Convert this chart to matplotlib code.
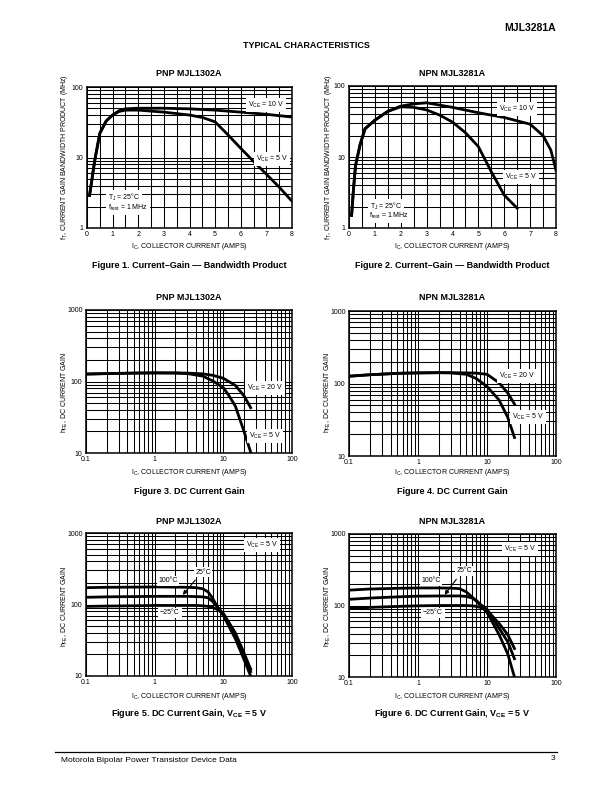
import numpy as np
import matplotlib.pyplot as plt
from matplotlib.ticker import MultipleLocator, LogLocator, FuncFormatter, NullFormatter

plt.rcParams['font.family'] = ['Liberation Sans', 'DejaVu Sans']
plt.rcParams['mathtext.default'] = 'regular'

W, H = 612, 792

# Figure 1 - PNP MJL1302A, fT vs Ic (linear x)
pnp_ft_ic_10 = [0.1, 0.3, 0.5, 0.75, 1.0, 1.25, 1.5, 2, 3, 4, 5, 6, 7, 8]
pnp_ft_10 = [2.9, 9, 22, 33, 40, 46, 49, 50, 50, 49, 47, 44, 41, 37.5]
pnp_ft_ic_5 = [0.1, 0.3, 0.5, 0.75, 1.0, 1.25, 1.5, 2, 3, 4, 4.5, 5, 5.5, 6, 6.5, 7, 7.5, 8]
pnp_ft_5 = [2.9, 9, 22, 33, 40, 45, 47, 47, 44, 40, 37, 32, 21, 13.5, 8.8, 5.8, 3.8, 2.4]

# Figure 2 - NPN MJL3281A, fT vs Ic
npn_ft_ic_10 = [0.1, 0.17, 0.25, 0.43, 0.62, 1.0, 1.5, 2, 2.5, 3, 4, 5, 6, 7, 7.5, 7.8, 8]
npn_ft_10 = [1.5, 3.4, 7.5, 15, 25, 33, 44, 52, 56, 58, 50, 42, 36, 29, 20, 12.5, 6.5]
npn_ft_ic_5 = [0.1, 0.17, 0.25, 0.43, 0.62, 1.0, 1.5, 2, 2.5, 3, 3.5, 4, 4.5, 5, 5.5, 6, 6.5]
npn_ft_5 = [1.5, 3.4, 7.5, 15, 25, 33, 44, 51, 50, 46, 39, 31, 22, 14, 6.2, 2.9, 1.9]

# Figure 3 - PNP hFE vs Ic
pnp_hfe_ic_20 = [0.1, 0.2, 0.5, 1, 2, 3, 5, 7, 10, 15, 20, 25]
pnp_hfe_20 = [127, 129, 131, 132, 132, 131, 128, 122, 111, 88, 63, 43]
pnp_hfe_ic_5 = [0.1, 0.2, 0.5, 1, 2, 3, 5, 7, 10, 12, 15, 20, 25]
pnp_hfe_5 = [127, 129, 131, 132, 131, 129, 119, 102, 82, 64, 45, 20, 10.3]

# Figure 4 - NPN hFE vs Ic
npn_hfe_ic = [0.1, 0.2, 0.5, 1, 2, 3, 5, 7, 10, 15, 20, 25]
npn_hfe_20 = [126, 132, 138, 140, 141, 141, 140, 139, 134, 102, 74, 52]
npn_hfe_5 = [126, 132, 138, 140, 141, 140, 134, 117, 91, 59, 34, 18]

# Figure 5 - PNP hFE vs Ic at three temperatures
pnp_t_ic = [0.1, 0.2, 0.5, 1, 2, 3, 4, 5, 6, 7, 8, 10, 15, 20, 25]
pnp_t_100 = [172, 174, 175, 176, 175, 174, 172, 166, 150, 122, 96, 70, 33, 17, 10]
pnp_t_25 = [126, 128, 129, 130, 130, 130, 129, 128, 124, 110, 95, 74, 37, 19, 11.5]
pnp_t_m25 = [94, 95, 96, 97, 97, 97, 97, 96, 94, 91, 86, 75, 40, 21, 12.5]

# Figure 6 - NPN hFE vs Ic at three temperatures
npn_t_ic = [0.1, 0.2, 0.5, 1, 2, 3, 4, 5, 6, 7, 8, 10, 15, 20, 25]
npn_t_100 = [164, 170, 174, 176, 176, 175, 172, 155, 133, 115, 100, 80, 39, 21, 10]
npn_t_25 = [122, 127, 132, 135, 136, 136, 136, 134, 128, 118, 104, 88, 48, 31, 18]
npn_t_m25 = [91, 94, 97, 99, 100, 100, 100, 100, 99, 97, 94, 86, 56, 39, 25]

fig = plt.figure(figsize=(W / 100, H / 100), dpi=100)


def fx(x, y):
    return x / W, 1 - y / H


def make_axes(l, t, r, b):
    return fig.add_axes([l / W, 1 - b / H, (r - l) / W, (b - t) / H])


def common(ax):
    ax.grid(which='both', color='black', lw=0.75)
    ax.tick_params(which='both', length=0, labelsize=5, pad=2.5)
    for s in ax.spines.values():
        s.set_linewidth(1.1)


def style_lin(ax):
    ax.set_yscale('log')
    ax.set_xlim(0, 8)
    ax.set_ylim(1, 100)
    ax.xaxis.set_major_locator(MultipleLocator(1))
    ax.xaxis.set_minor_locator(MultipleLocator(0.5))
    ax.yaxis.set_major_locator(LogLocator(base=10, numticks=10))
    ax.yaxis.set_minor_locator(LogLocator(base=10, subs=np.arange(2, 10), numticks=10))
    ax.yaxis.set_major_formatter(FuncFormatter(lambda v, p: f"{v:g}"))
    ax.yaxis.set_minor_formatter(NullFormatter())
    common(ax)


def style_log(ax):
    ax.set_xscale('log')
    ax.set_yscale('log')
    ax.set_xlim(0.1, 100)
    ax.set_ylim(10, 1000)
    for axis in (ax.xaxis, ax.yaxis):
        axis.set_major_locator(LogLocator(base=10, numticks=10))
        axis.set_minor_locator(LogLocator(base=10, subs=np.arange(2, 10), numticks=10))
        axis.set_major_formatter(FuncFormatter(lambda v, p: f"{v:g}"))
        axis.set_minor_formatter(NullFormatter())
    common(ax)


def label(x, y, s, ha='center', size=5):
    fig.text(*fx(x, y), s, ha=ha, va='center', fontsize=size,
             bbox=dict(facecolor='white', edgecolor='none', pad=1.2))


def texts(cx, ytitle, yxl, ycap, title, cap, ylab_x, ylab_y, ylab):
    fig.text(*fx(cx, ytitle), title, ha='center', va='center', fontsize=6.5, fontweight='bold')
    fig.text(*fx(cx, yxl), r"I$_{C}$, COLLECTOR CURRENT (AMPS)", ha='center', va='center', fontsize=5)
    fig.text(*fx(cx, ycap), cap, ha='center', va='center', fontsize=6.5, fontweight='bold')
    fig.text(*fx(ylab_x, ylab_y), ylab, ha='center', va='center', fontsize=5, rotation=90)


lw = 2.0
ft_lab = r"f$_{T}$, CURRENT GAIN BANDWIDTH PRODUCT (MHz)"
hfe_lab = r"h$_{FE}$, DC CURRENT GAIN"
vce = lambda v: r"V$_{CE}$ = " + v + " V"

# ---- Figure 1
ax = make_axes(87, 87, 292, 228)
style_lin(ax)
ax.plot(pnp_ft_ic_10, pnp_ft_10, color='black', lw=lw)
ax.plot(pnp_ft_ic_5, pnp_ft_5, color='black', lw=lw)
label(266, 105, vce("10"))
label(272, 159, vce("5"))
label(108, 197, r"T$_{J}$ = 25°C", ha='left')
label(108, 208, r"f$_{test}$ = 1 MHz", ha='left')
texts(189, 73, 247, 266, "PNP MJL1302A", "Figure 1. Current\u2013Gain \u2014 Bandwidth Product", 65, 157, ft_lab)

# ---- Figure 2
ax = make_axes(349, 86, 556, 228)
style_lin(ax)
ax.plot(npn_ft_ic_10, npn_ft_10, color='black', lw=lw)
ax.plot(npn_ft_ic_5, npn_ft_5, color='black', lw=lw)
label(517, 109, vce("10"))
label(521, 177, vce("5"))
label(370, 206, r"T$_{J}$ = 25°C", ha='left')
label(369, 216, r"f$_{test}$ = 1 MHz", ha='left')
texts(452, 73, 247, 266, "NPN MJL3281A", "Figure 2. Current\u2013Gain \u2014 Bandwidth Product", 328, 157, ft_lab)

# ---- Figure 3
ax = make_axes(86, 310, 292, 453)
style_log(ax)
ax.plot(pnp_hfe_ic_20, pnp_hfe_20, color='black', lw=lw)
ax.plot(pnp_hfe_ic_5, pnp_hfe_5, color='black', lw=lw)
label(265, 388, vce("20"))
label(265, 436, vce("5"))
texts(189, 297, 473, 491, "PNP MJL1302A", "Figure 3. DC Current Gain", 65, 392, hfe_lab)

# ---- Figure 4
ax = make_axes(349, 311, 556, 456)
style_log(ax)
ax.plot(npn_hfe_ic, npn_hfe_20, color='black', lw=lw)
ax.plot(npn_hfe_ic, npn_hfe_5, color='black', lw=lw)
label(517, 376, vce("20"))
label(528, 417, vce("5"))
texts(452, 297, 473, 491, "NPN MJL3281A", "Figure 4. DC Current Gain", 328, 392, hfe_lab)

# ---- Figure 5
ax = make_axes(86, 533, 292, 676)
style_log(ax)
for vals in (pnp_t_100, pnp_t_25, pnp_t_m25):
    ax.plot(pnp_t_ic, vals, color='black', lw=lw)
label(262, 545, vce("5"))
label(168, 581, "100°C")
label(170, 613, "\u221225°C")
fig.text(*fx(203, 572), "25°C", ha='center', va='center', fontsize=5,
         bbox=dict(facecolor='white', edgecolor='none', pad=1.2))
ax.annotate("", xy=fx(181, 597), xytext=fx(197, 578), xycoords='figure fraction',
            textcoords='figure fraction',
            arrowprops=dict(arrowstyle='-|>', color='black', lw=0.8, mutation_scale=6))
texts(189, 521, 697, 714, "PNP MJL1302A", r"Figure 5. DC Current Gain, V$_{CE}$ = 5 V", 65, 606, hfe_lab)

# ---- Figure 6
ax = make_axes(349, 534, 556, 677)
style_log(ax)
for vals in (npn_t_100, npn_t_25, npn_t_m25):
    ax.plot(npn_t_ic, vals, color='black', lw=lw)
label(520, 549, vce("5"))
label(431, 581, "100°C")
label(433, 613, "\u221225°C")
fig.text(*fx(464, 571), "25°C", ha='center', va='center', fontsize=5,
         bbox=dict(facecolor='white', edgecolor='none', pad=1.2))
ax.annotate("", xy=fx(443, 597), xytext=fx(458, 577), xycoords='figure fraction',
            textcoords='figure fraction',
            arrowprops=dict(arrowstyle='-|>', color='black', lw=0.8, mutation_scale=6))
texts(452, 521, 697, 714, "NPN MJL3281A", r"Figure 6. DC Current Gain, V$_{CE}$ = 5 V", 328, 606, hfe_lab)

# ---- page header / footer
fig.text(*fx(556, 28), "MJL3281A", ha='right', va='center', fontsize=7.5, fontweight='heavy')
fig.text(*fx(306, 45), "TYPICAL CHARACTERISTICS", ha='center', va='center', fontsize=6.5, fontweight='bold')
fig.add_artist(plt.Line2D([55 / W, 557 / W], [1 - 752 / H] * 2, color='black', lw=0.9))
fig.text(*fx(61, 761), "Motorola Bipolar Power Transistor Device Data", ha='left', va='center', fontsize=6)
fig.text(*fx(555, 759), "3", ha='right', va='center', fontsize=6)

fig.savefig("out.png", dpi=100)
